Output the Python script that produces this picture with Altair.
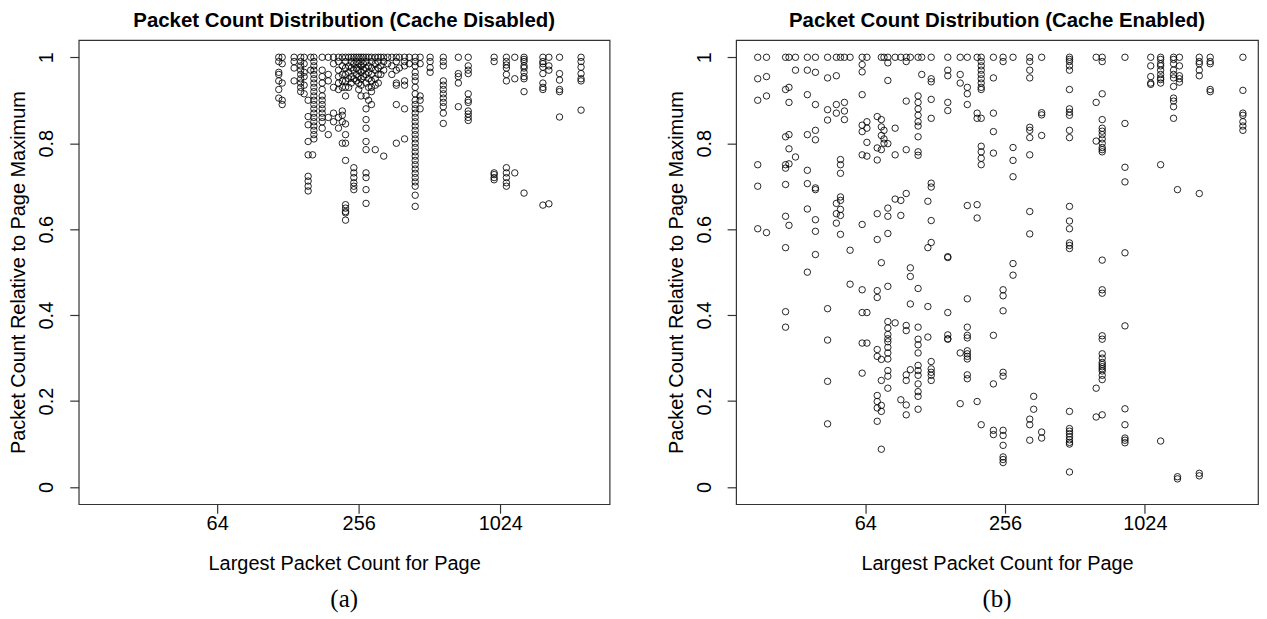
import altair as alt
import pandas as pd

# ---------------- data ----------------
# Cache disabled: packet-count columns and the relative values in each column
LEFT_X = [117, 121, 136, 145, 150, 156, 160, 163, 165, 179, 190, 200, 210, 218,
          225, 232, 238, 244, 250, 256, 262, 268, 275, 282, 290, 301, 310, 318,
          327, 340, 354, 370, 381, 401, 420, 445, 467, 515, 586, 679, 748, 964,
          1087, 1180, 1292, 1554, 1648, 1829, 2258]
LEFT_Y = [
    [1.0, 0.99, 0.965, 0.96, 0.945, 0.925, 0.905],
    [1.0, 0.985, 0.94, 0.90, 0.89],
    [1.0, 0.99, 0.975, 0.945],
    [1.0, 0.99, 0.98, 0.97, 0.96, 0.95, 0.94, 0.93, 0.92],
    [1.0, 0.985, 0.965, 0.955, 0.935, 0.915],
    [0.90, 0.862, 0.843, 0.804, 0.773, 0.723, 0.712, 0.70, 0.689],
    [1.0, 0.97],
    [0.773],
    [1.0, 0.99, 0.98, 0.97, 0.96, 0.95, 0.94, 0.93, 0.92, 0.91, 0.90, 0.89,
     0.88, 0.87, 0.86, 0.85, 0.84, 0.83, 0.82, 0.81],
    [1.0, 0.97, 0.955, 0.94, 0.925, 0.91, 0.90, 0.89, 0.88, 0.87, 0.86, 0.85, 0.835],
    [1.0, 0.96, 0.945, 0.86, 0.82],
    [1.0, 0.985, 0.93, 0.87, 0.85],
    [1.0, 0.99, 0.97, 0.955, 0.94, 0.925, 0.86, 0.835],
    [1.0, 0.98, 0.96, 0.945, 0.93, 0.875, 0.865, 0.85, 0.80],
    [1.0, 0.99, 0.975, 0.96, 0.945, 0.93, 0.91, 0.845, 0.82, 0.80, 0.76,
     0.657, 0.649, 0.641, 0.638, 0.621],
    [1.0, 0.98, 0.965, 0.95, 0.93],
    [1.0, 0.99, 0.975, 0.955, 0.94],
    [1.0, 0.985, 0.97, 0.95, 0.743, 0.731, 0.72, 0.708, 0.70, 0.692],
    [1.0, 0.99, 0.975, 0.96, 0.945],
    [1.0, 0.985, 0.97, 0.955, 0.94, 0.925],
    [1.0, 0.99, 0.98, 0.965, 0.95, 0.935, 0.91],
    [1.0, 0.985, 0.97, 0.955],
    [1.0, 0.99, 0.975, 0.96, 0.94, 0.91, 0.88, 0.855, 0.835, 0.804, 0.785,
     0.731, 0.72, 0.692, 0.66],
    [1.0, 0.98, 0.965, 0.95, 0.93, 0.90],
    [1.0, 0.99, 0.975, 0.96, 0.945, 0.93, 0.92, 0.89],
    [1.0, 0.985, 0.97, 0.95, 0.935, 0.785],
    [1.0, 0.99, 0.975, 0.96, 0.94],
    [1.0, 0.98, 0.96],
    [1.0, 0.99, 0.97, 0.77],
    [1.0, 0.985],
    [1.0, 0.98, 0.96],
    [1.0, 0.99, 0.97, 0.94, 0.935, 0.89, 0.80],
    [1.0, 0.975],
    [1.0, 0.99, 0.98, 0.945, 0.935, 0.88, 0.81],
    [1.0, 0.985],
    [1.0, 0.99, 0.98, 0.965, 0.955, 0.945, 0.93, 0.915, 0.90, 0.89, 0.88, 0.87,
     0.86, 0.85, 0.84, 0.83, 0.82, 0.81, 0.80, 0.79, 0.78, 0.77, 0.76, 0.75,
     0.74, 0.73, 0.72, 0.71, 0.70, 0.679, 0.653],
    [1.0, 0.985, 0.91, 0.90, 0.88],
    [1.0, 0.99, 0.976, 0.965],
    [1.0, 0.99, 0.98, 0.945, 0.935, 0.925, 0.915, 0.905, 0.895, 0.885, 0.87, 0.846],
    [1.0, 0.962, 0.955, 0.94, 0.885],
    [1.0, 0.98, 0.97, 0.962, 0.915, 0.90, 0.895, 0.875, 0.868, 0.86, 0.853],
    [1.0, 0.99, 0.731, 0.727, 0.72, 0.715],
    [1.0, 0.99, 0.982, 0.975, 0.96, 0.945, 0.743, 0.731, 0.72, 0.708, 0.70],
    [1.0, 0.95, 0.731],
    [1.0, 0.995, 0.99, 0.98, 0.975, 0.965, 0.955, 0.95, 0.92, 0.684],
    [1.0, 0.99, 0.985, 0.977, 0.962, 0.94, 0.93, 0.925, 0.656],
    [1.0, 0.98, 0.97, 0.659],
    [1.0, 0.962, 0.947, 0.925, 0.92, 0.861],
    [1.0, 0.99, 0.977, 0.962, 0.95, 0.945, 0.877],
]

# Cache enabled
RIGHT_X = [22, 24, 29, 30, 32, 36, 39, 44, 48, 50, 52, 55, 62, 65, 72, 75, 77,
           80, 86, 91, 96, 100, 108, 112, 119, 123, 145, 164, 176, 194, 202,
           228, 251, 277, 327, 340, 368, 485, 632, 671, 841, 1086, 1198, 1362,
           1416, 1444, 1758, 1959, 2710]
RIGHT_Y = [
    [1.0, 0.95, 0.9, 0.75, 0.70, 0.601],
    [1.0, 0.955, 0.91, 0.592],
    [1.0, 0.925, 0.815, 0.75, 0.742, 0.704, 0.63, 0.557, 0.408, 0.372],
    [1.0, 0.93, 0.895, 0.82, 0.787, 0.752, 0.609],
    [1.0, 0.97, 0.768],
    [1.0, 0.97, 0.913, 0.82, 0.737, 0.706, 0.647, 0.5],
    [1.0, 0.965, 0.89, 0.83, 0.808, 0.696, 0.692, 0.622, 0.595, 0.541],
    [1.0, 0.952, 0.878, 0.854, 0.415, 0.342, 0.246, 0.147],
    [1.0, 0.957, 0.89, 0.87, 0.66, 0.636, 0.614],
    [1.0, 0.762, 0.75, 0.73, 0.675, 0.667, 0.646, 0.632, 0.588],
    [1.0, 0.895, 0.875, 0.855],
    [1.0, 0.551, 0.472],
    [1.0, 0.983, 0.966, 0.913, 0.842, 0.827, 0.773, 0.611, 0.459, 0.406, 0.335, 0.265],
    [1.0, 0.85, 0.835, 0.802, 0.77, 0.406, 0.335],
    [0.862, 0.789, 0.761, 0.636, 0.576, 0.457, 0.441, 0.32, 0.304, 0.213,
     0.199, 0.184, 0.153],
    [1.0, 0.855, 0.838, 0.818, 0.785, 0.522, 0.297, 0.248, 0.19, 0.176, 0.088],
    [1.0, 0.83, 0.81, 0.80],
    [1.0, 0.987, 0.946, 0.799, 0.649, 0.63, 0.59, 0.467, 0.385, 0.37, 0.355,
     0.345, 0.338, 0.325, 0.312, 0.298, 0.271, 0.258, 0.23],
    [1.0, 0.835, 0.773, 0.67, 0.382],
    [1.0, 0.667, 0.632, 0.203],
    [1.0, 0.99, 0.898, 0.785, 0.683, 0.376, 0.364, 0.261, 0.248, 0.191, 0.168],
    [1.0, 0.51, 0.49, 0.426, 0.273],
    [1.0, 0.91, 0.895, 0.88, 0.865, 0.85, 0.84, 0.815, 0.78, 0.772, 0.462,
     0.372, 0.344, 0.331, 0.312, 0.283, 0.271, 0.26, 0.24, 0.222, 0.211, 0.181],
    [1.0, 0.96],
    [0.665, 0.557, 0.42, 0.349],
    [1.0, 0.95, 0.943, 0.902, 0.858, 0.707, 0.698, 0.62, 0.569, 0.292, 0.275,
     0.267, 0.26, 0.248],
    [1.0, 0.97, 0.957, 0.895, 0.876, 0.536, 0.534, 0.406, 0.354, 0.345, 0.344],
    [1.0, 0.96, 0.94, 0.312, 0.194],
    [1.0, 0.93, 0.915, 0.89, 0.655, 0.438, 0.372, 0.353, 0.347, 0.317, 0.31,
     0.304, 0.298, 0.261, 0.252],
    [1.0, 0.87, 0.858, 0.657, 0.626, 0.199],
    [1.0, 0.99, 0.98, 0.97, 0.96, 0.95, 0.94, 0.93, 0.925, 0.858, 0.793, 0.78,
     0.765, 0.75, 0.145],
    [1.0, 0.952, 0.87, 0.827, 0.777, 0.353, 0.24, 0.132, 0.122],
    [1.0, 0.99, 0.459, 0.445, 0.41, 0.267, 0.258, 0.132, 0.12, 0.097, 0.07,
     0.064, 0.057],
    [1.0, 0.79, 0.76, 0.722, 0.52, 0.493],
    [1.0, 0.99, 0.97, 0.952, 0.837, 0.83, 0.813, 0.773, 0.641, 0.589, 0.158,
     0.145, 0.109],
    [0.211, 0.181],
    [1.0, 0.871, 0.866, 0.818, 0.128, 0.114],
    [1.0, 0.995, 0.99, 0.98, 0.97, 0.925, 0.88, 0.872, 0.865, 0.83, 0.813,
     0.653, 0.619, 0.601, 0.568, 0.562, 0.555, 0.176, 0.136, 0.13, 0.124,
     0.117, 0.11, 0.104, 0.1, 0.035],
    [1.0, 0.895, 0.805, 0.23, 0.163],
    [1.0, 0.99, 0.915, 0.855, 0.835, 0.828, 0.82, 0.81, 0.8, 0.79, 0.785, 0.78,
     0.528, 0.459, 0.451, 0.352, 0.344, 0.31, 0.3, 0.29, 0.285, 0.28, 0.275,
     0.27, 0.26, 0.25, 0.168],
    [1.0, 0.846, 0.744, 0.71, 0.545, 0.375, 0.182, 0.145, 0.114, 0.109, 0.103],
    [1.0, 0.98, 0.955, 0.94, 0.937],
    [1.0, 0.995, 0.985, 0.98, 0.97, 0.96, 0.952, 0.948, 0.94, 0.75, 0.107],
    [1.0, 0.995, 0.985, 0.97, 0.96, 0.952, 0.932, 0.905, 0.898, 0.885, 0.858],
    [0.692, 0.024, 0.019],
    [1.0, 0.98, 0.957, 0.95, 0.942],
    [1.0, 0.99, 0.985, 0.97, 0.957, 0.683, 0.032, 0.026],
    [1.0, 0.99, 0.985, 0.925, 0.92],
    [1.0, 0.923, 0.87, 0.865, 0.85, 0.84, 0.83],
]

TITLES = ["Packet Count Distribution (Cache Disabled)",
          "Packet Count Distribution (Cache Enabled)"]
CAPTIONS = ["(a)", "(b)"]
X_TICKS = [64, 256, 1024]
Y_TICKS = [0, 0.2, 0.4, 0.6, 0.8, 1]
X_TITLE = "Largest Packet Count for Page"
Y_TITLE = "Packet Count Relative to Page Maximum"

X_DOMAINS = [[16.5, 2986], [17.75, 3148]]
Y_DOMAIN = [-0.04, 1.04]

SANS = "Liberation Sans"
SERIF = "Liberation Serif"
H = 466


def to_frame(xs, ys):
    rows = []
    for x, col in zip(xs, ys):
        for y in col:
            rows.append({"count": x, "ratio": y})
    return pd.DataFrame(rows)


def panel(xs, ys, title, caption, xdom, width):
    df = to_frame(xs, ys)
    pts = alt.Chart(df).mark_point(
        shape="circle", filled=False, stroke="black", strokeWidth=0.85,
        size=42, opacity=1
    ).encode(
        x=alt.X("count:Q",
                scale=alt.Scale(type="log", base=2, domain=xdom, nice=False),
                axis=alt.Axis(values=X_TICKS, format="d", title=X_TITLE,
                              tickSize=9, labelPadding=0, labelFlush=False,
                              labelOverlap=False, titleY=60,
                              titleBaseline="middle", grid=False, domain=False)),
        y=alt.Y("ratio:Q",
                scale=alt.Scale(domain=Y_DOMAIN, nice=False, zero=False),
                axis=alt.Axis(values=Y_TICKS, format="~g", title=Y_TITLE,
                              tickSize=9, labelAngle=270, labelAlign="center",
                              labelBaseline="bottom", labelPadding=13,
                              labelFlush=False, labelOverlap=False,
                              titleX=-60, titleY=H / 2, titleAngle=270,
                              titleAlign="center", titleBaseline="middle",
                              grid=False, domain=False)),
    )
    cap = alt.Chart(pd.DataFrame({"t": [caption]})).mark_text(
        font=SERIF, fontSize=25, baseline="middle", align="center", color="black"
    ).encode(
        x=alt.value(width / 2), y=alt.value(H + 95), text="t:N"
    )
    return alt.layer(pts, cap).properties(
        width=width, height=H,
        title=alt.TitleParams(title, font=SANS, fontSize=20.5, fontWeight="bold",
                              color="black", anchor="middle", offset=9)
    )


left = panel(LEFT_X, LEFT_Y, TITLES[0], CAPTIONS[0], X_DOMAINS[0], 533)
right = panel(RIGHT_X, RIGHT_Y, TITLES[1], CAPTIONS[1], X_DOMAINS[1], 524)

chart = alt.hconcat(left, right, spacing=55).properties(
    padding={"left": 0, "top": 0, "right": 0, "bottom": 0},
    background="white"
).configure_view(
    stroke="#333333", strokeWidth=1.2
).configure_axis(
    grid=False, domain=False, tickColor="#333333", tickWidth=1.2,
    labelFont=SANS, labelFontSize=20, labelColor="black",
    titleFont=SANS, titleFontSize=20, titleFontWeight="normal", titleColor="black"
)

chart.save("out.html", embed_options={"renderer": "svg", "actions": False})
